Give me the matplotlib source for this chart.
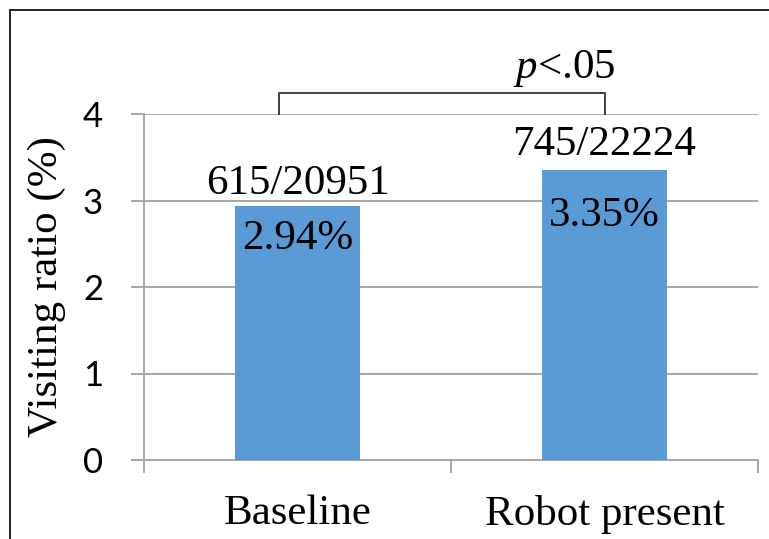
import matplotlib.pyplot as plt
from matplotlib.patches import Rectangle

# data
categories = ["Baseline", "Robot present"]
ratios = [2.94, 3.35]
counts = ["615/20951", "745/22224"]
pct_labels = ["2.94%", "3.35%"]
sig_text = "$p$<.05"

plt.rcParams["mathtext.fontset"] = "custom"
plt.rcParams["mathtext.it"] = "Liberation Serif:italic"
plt.rcParams["mathtext.rm"] = "Liberation Serif"

W, H = 769, 539
fig = plt.figure(figsize=(W / 100, H / 100), dpi=100)
ax = fig.add_axes([144 / W, 1 - 460 / H, (758 - 144) / W, (460 - 114) / H])

serif = "Liberation Serif"
sans = "Lato"
grey = "#A6A6A6"
fs = 31

x = list(range(len(categories)))
ax.bar(x, ratios, width=0.405, color="#5B9BD5", zorder=3)

ax.set_xlim(-0.5, 1.5)
ax.set_ylim(0, 4)
ax.set_yticks([0, 1, 2, 3, 4])
ax.yaxis.grid(True, color=grey, lw=1.4, zorder=0)
for s in ["top", "right"]:
    ax.spines[s].set_visible(False)
for s in ["left", "bottom"]:
    ax.spines[s].set_color(grey)
    ax.spines[s].set_linewidth(1.4)

# ticks at category boundaries (excel style)
ax.set_xticks([-0.5, 0.5, 1.5])
ax.set_xticklabels([])
ax.set_xticks(x, minor=True)
ax.set_xticklabels(categories, minor=True, fontfamily=serif, fontsize=fs)
ax.tick_params(axis="x", which="major", length=9.5, width=1.4, color=grey)
ax.tick_params(axis="x", which="minor", length=0, pad=25)
ax.tick_params(axis="y", length=9.5, width=1.4, color=grey, pad=20)
for t in ax.get_yticklabels():
    t.set_fontfamily(sans)
    t.set_fontsize(25)

ax.set_ylabel("Visiting ratio (%)", fontfamily=serif, fontsize=fs, labelpad=12)

# labels above and inside bars
above_off = [8.6, 10.8]
inside_off = [-31, -40]
for i, v in enumerate(ratios):
    ax.annotate(counts[i], (x[i], v), xytext=(0, above_off[i]), textcoords="offset points",
                ha="center", va="baseline", fontfamily=serif, fontsize=fs, zorder=4)
    ax.annotate(pct_labels[i], (x[i], v), xytext=(0, inside_off[i]), textcoords="offset points",
                ha="center", va="baseline", fontfamily=serif, fontsize=fs, zorder=4)

# significance bracket
bx = [-0.06, -0.06, 1.0, 1.0]
by = [4.0, 4.24, 4.24, 4.0]
ax.plot(bx, by, color="#404040", lw=1.4, clip_on=False, zorder=5)
ax.text(0.87, 4.42, sig_text, ha="center", va="baseline", fontfamily=serif, fontsize=fs)

# frame around the figure
fig.patches.append(Rectangle((10 / W, -0.1), 1.1, 1 - 10 / H + 0.1, transform=fig.transFigure,
                             fill=False, edgecolor="#202020", lw=1.4))

fig.savefig("out.png", dpi=100)
